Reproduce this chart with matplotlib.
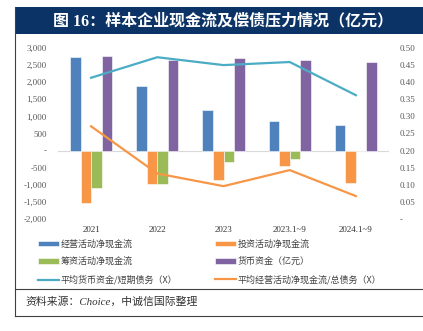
import numpy as np
import matplotlib.pyplot as plt
from matplotlib.patches import Rectangle
from matplotlib.lines import Line2D

# 数据（亿元 / 倍）
years = ['2021', '2022', '2023', '2023.1~9', '2024.1~9']
op_cf = [2730, 1890, 1200, 870, 750]
inv_cf = [-1540, -980, -870, -460, -955]
fin_cf = [-1080, -980, -330, -255, -15]
cash = [2760, 2640, 2720, 2650, 2590]
cash_st_debt = [0.413, 0.473, 0.450, 0.459, 0.362]
opcf_total_debt = [0.271, 0.133, 0.096, 0.143, 0.067]

C_BLUE = '#4F81BD'
C_ORANGE = '#F79646'
C_GREEN = '#9BBB59'
C_PURPLE = '#8064A2'
C_CYAN = '#4BACC6'
NAVY = '#0B3366'
TICK = '#595959'

SERIF = ['Liberation Serif', 'Noto Sans CJK SC']
CJK = ['Noto Sans CJK SC', 'Liberation Serif']

W, H = 423, 331
fig = plt.figure(figsize=(W / 100, H / 100), dpi=100)

def fx(px):
    return px / W

def fy(py):
    return 1 - py / H

# 外框 + 标题栏
fig.add_artist(Rectangle((fx(15), fy(34)), fx(W - 15), (34 - 7) / H,
                         transform=fig.transFigure, facecolor=NAVY, edgecolor='none'))
fig.add_artist(Line2D([fx(15), fx(15)], [fy(7), fy(316)], transform=fig.transFigure,
                      color='#404040', lw=0.8))
fig.add_artist(Line2D([fx(15), 1], [fy(289), fy(289)], transform=fig.transFigure,
                      color='#404040', lw=0.8))
fig.add_artist(Line2D([fx(15), 1], [fy(316), fy(316)], transform=fig.transFigure,
                      color='#404040', lw=0.8))
fig.text(fx(53), fy(21), '图 16：样本企业现金流及偿债压力情况（亿元）', color='white',
         fontsize=11.5, fontweight='bold', family=SERIF, va='center', ha='left')
fig.text(fx(25), fy(302), '资料来源：Choice，中诚信国际整理', color='#333333',
         fontsize=7.8, style='italic', family=SERIF, va='center', ha='left')

# 主图
ax = fig.add_axes([fx(58), fy(219), fx(389 - 58), (219 - 48) / H])
x = np.arange(len(years))
bw = 0.16
offs = [-0.24, -0.08, 0.08, 0.24]
series = [(op_cf, C_BLUE, '经营活动净现金流'),
          (inv_cf, C_ORANGE, '投资活动净现金流'),
          (fin_cf, C_GREEN, '筹资活动净现金流'),
          (cash, C_PURPLE, '货币资金（亿元）')]
bars = []
for (vals, col, lab), o in zip(series, offs):
    b = ax.bar(x + o, vals, bw, color=col, edgecolor='white', linewidth=0.4, label=lab, zorder=2)
    bars.append(b)
ax.axhline(0, color='#D9D9D9', lw=0.8, zorder=1)
ax.set_xlim(-0.5, len(years) - 0.5)
ax.set_ylim(-2000, 3000)
ax.set_yticks(np.arange(-2000, 3001, 500))
ax.set_yticklabels(['-' if v == 0 else f'{v:,}' for v in range(-2000, 3001, 500)])
ax.set_xticks(x)
ax.set_xticklabels(years)
for s in ax.spines.values():
    s.set_visible(False)
ax.tick_params(length=0, labelsize=6.5, colors=TICK, pad=8)
ax.tick_params(axis='x', colors='#333333', pad=5)
for t in ax.get_xticklabels() + ax.get_yticklabels():
    t.set_family(SERIF)

ax2 = ax.twinx()
l1, = ax2.plot(x, cash_st_debt, color=C_CYAN, lw=1.6, label='平均货币资金/短期债务（X）', zorder=3)
l2, = ax2.plot(x, opcf_total_debt, color=C_ORANGE, lw=1.6, label='平均经营活动净现金流/总债务（X）', zorder=3)
ax2.set_ylim(0, 0.5)
ticks2 = np.arange(0, 0.501, 0.05)
ax2.set_yticks(ticks2)
ax2.set_yticklabels(['-' if abs(v) < 1e-9 else f'{v:.2f}' for v in ticks2])
for s in ax2.spines.values():
    s.set_visible(False)
ax2.tick_params(length=0, labelsize=6.5, colors=TICK, pad=8)
for t in ax2.get_yticklabels():
    t.set_family(SERIF)

handles = [bars[0], bars[2], l1, bars[1], bars[3], l2]
labels = [h.get_label() for h in handles]
leg = fig.legend(handles, labels, ncol=2, loc='upper left',
                 bbox_to_anchor=(fx(30), fy(231)), frameon=False,
                 prop={'family': CJK, 'size': 6.5}, handlelength=2.3,
                 handleheight=0.5, handletextpad=0.2, labelspacing=0.95,
                 columnspacing=4.2)
for t in leg.get_texts():
    t.set_color('#404040')

fig.savefig('out.png', dpi=100)
